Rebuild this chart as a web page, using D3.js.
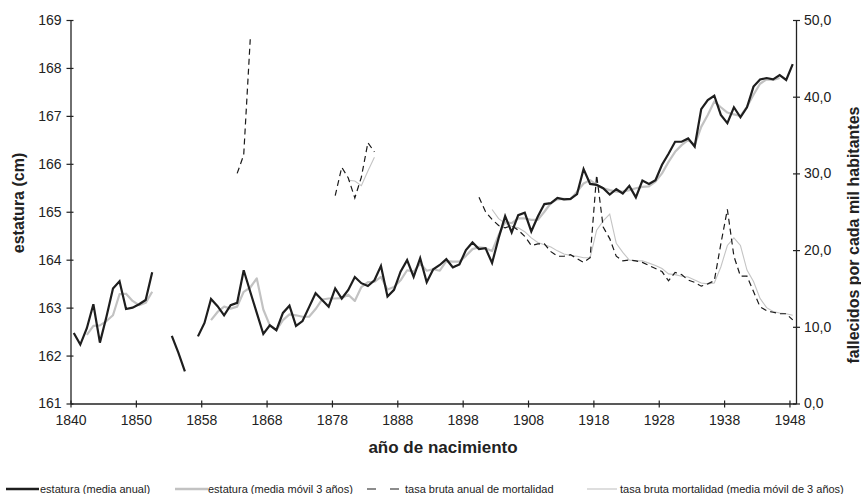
<!DOCTYPE html>
<html>
<head>
<meta charset="utf-8">
<script src="https://cdn.jsdelivr.net/npm/d3@7"></script>
<style>
  body { margin: 0; background: #fff; }
  text { font-family: "Liberation Sans", Arial, sans-serif; }
</style>
</head>
<body>
<div id="chart"></div>
<script>
// category positions on the x axis (one per birth year, 111 in all)
var nCategories = 111;
var xTickIndex = [0, 10, 20, 30, 40, 50, 60, 70, 80, 90, 100, 110];
var xTickLabels = ["1840", "1850", "1858", "1868", "1878", "1888", "1898", "1908", "1918", "1928", "1938", "1948"];
var leftTicks = [161, 162, 163, 164, 165, 166, 167, 168, 169];
var rightTicks = [0, 10, 20, 30, 40, 50];

// estatura (media anual), cm
var heightAnnual = [
  162.47, 162.23, 162.57, 163.07, 162.27, 162.81, 163.40, 163.55, 162.97, 163.00,
  163.07, 163.16, 163.74, null, null, 162.41, 162.06, 161.67, null, 162.40,
  162.68, 163.18, 163.03, 162.84, 163.05, 163.10, 163.78, 163.33, 162.89, 162.45,
  162.63, 162.53, 162.89, 163.04, 162.62, 162.72, 163.01, 163.30, 163.16, 163.02,
  163.40, 163.19, 163.37, 163.64, 163.51, 163.45, 163.57, 163.87, 163.23, 163.37,
  163.75, 163.99, 163.64, 164.03, 163.53, 163.80, 163.89, 164.01, 163.84, 163.90,
  164.20, 164.36, 164.22, 164.24, 163.93, 164.45, 164.91, 164.57, 164.93, 164.98,
  164.59, 164.90, 165.16, 165.18, 165.29, 165.26, 165.27, 165.37, 165.89, 165.58,
  165.56, 165.49, 165.36, 165.47, 165.38, 165.54, 165.30, 165.65, 165.58, 165.66,
  165.98, 166.21, 166.46, 166.46, 166.53, 166.36, 167.14, 167.33, 167.42, 167.02,
  166.85, 167.18, 166.97, 167.18, 167.61, 167.76, 167.79, 167.76, 167.85, 167.75,
  168.08
];

// estatura (media movil 3 anos), cm
var heightMA = [
  null, null, 162.43, 162.62, 162.63, 162.72, 162.84, 163.28, 163.29, 163.14,
  163.05, 163.10, 163.33, null, null, null, null, null, null, null,
  null, 162.74, 162.91, 163.02, 162.98, 163.02, 163.33, 163.42, 163.61, 162.96,
  162.63, 162.53, 162.74, 162.86, 162.84, 162.81, 162.81, 162.97, 163.17, 163.19,
  163.19, 163.20, 163.27, 163.14, 163.43, 163.53, 163.54, 163.64, 163.38, 163.43,
  163.57, 163.78, 163.75, 163.92, 163.77, 163.80, 163.77, 163.97, 163.96, 163.96,
  164.08, 164.22, 164.26, 164.24, 164.18, 164.51, 164.79, 164.76, 164.86, 164.86,
  164.83, 164.83, 165.00, 165.18, 165.26, 165.27, 165.26, 165.42, 165.59, 165.66,
  165.56, 165.49, 165.45, 165.42, 165.42, 165.45, 165.49, 165.52, 165.53, 165.63,
  165.80, 166.04, 166.25, 166.39, 166.50, 166.39, 166.77, 167.02, 167.30, 167.18,
  167.07, 167.03, 167.00, 167.19, 167.44, 167.67, 167.76, 167.75, 167.79, null,
  null
];

// tasa bruta anual de mortalidad, por mil
var mortAnnual = [
  null, null, null, null, null, null, null, null, null, null,
  null, null, null, null, null, null, null, null, null, null,
  null, null, null, null, null, 30.0, 32.4, 47.5, null, null,
  null, null, null, null, null, null, null, null, null, null,
  27.1, 30.8, 29.4, 26.8, 29.5, 34.0, 32.8, null, null, null,
  null, null, null, null, null, null, null, null, null, null,
  null, null, 26.9, 25.0, 24.0, 23.2, 22.9, 23.2, 22.6, 21.8,
  20.6, 20.8, 20.8, 19.8, 19.2, 19.2, 19.4, 18.9, 18.4, 19.0,
  29.8, 23.0, 21.5, 19.2, 18.6, 18.7, 18.6, 18.4, 18.0, 17.6,
  17.2, 16.0, 17.1, 16.8, 16.1, 15.8, 15.3, 15.6, 16.0, 20.8,
  25.3, 19.2, 16.6, 16.6, 14.6, 12.6, 12.1, 11.9, 11.7, 11.7,
  10.9
];

// tasa bruta mortalidad (media movil de 3 anos), por mil
var mortMA = [
  null, null, null, null, null, null, null, null, null, null,
  null, null, null, null, null, null, null, null, null, null,
  null, null, null, null, null, null, null, null, null, null,
  null, null, null, null, null, null, null, null, null, null,
  null, null, 29.1, 29.0, 28.4, 30.3, 32.1, null, null, null,
  null, null, null, null, null, null, null, null, null, null,
  null, null, null, null, 25.3, 24.1, 23.5, 23.1, 22.9, 22.4,
  21.6, 21.0, 20.7, 20.4, 19.9, 19.5, 19.3, 19.2, 19.0, 19.0,
  22.6, 23.8, 24.7, 20.9, 19.7, 18.7, 18.6, 18.6, 18.3, 18.0,
  17.6, 16.9, 16.8, 16.6, 16.5, 16.1, 15.7, 15.6, 15.7, 17.8,
  20.6, 21.6, 20.6, 17.4, 15.9, 13.7, 12.5, 12.0, 11.8, 11.7,
  11.5
];

var legendLabels = [
  "estatura (media anual)",
  "estatura (media móvil 3 años)",
  "tasa bruta anual de mortalidad",
  "tasa bruta mortalidad (media móvil de 3 años)"
];

function drawChart() {
	var width = 861, height = 494;
	var left = 70.5, right = 796, top = 20, bottom = 403.5;

	var svg = d3.select("#chart")
		.append("svg")
		.attr("width", width)
		.attr("height", height);

	var x = d3.scaleLinear().domain([0, nCategories]).range([left, right]);
	var yL = d3.scaleLinear().domain([161, 169]).range([bottom, top]);
	var yR = d3.scaleLinear().domain([0, 50]).range([bottom, top]);

	// series (points sit in the middle of their category)
	var lineL = d3.line()
		.defined(d => d != null)
		.x((d, i) => x(i + 0.5))
		.y(d => yL(d));
	var lineR = d3.line()
		.defined(d => d != null)
		.x((d, i) => x(i + 0.5))
		.y(d => yR(d));

	svg.append("path").datum(mortMA)
		.attr("d", lineR).attr("fill", "none")
		.attr("stroke", "#c4c4c4").attr("stroke-width", 1.1);

	svg.append("path").datum(mortAnnual)
		.attr("d", lineR).attr("fill", "none")
		.attr("stroke", "#1a1a1a").attr("stroke-width", 1.2)
		.attr("stroke-dasharray", "6,4");

	svg.append("path").datum(heightMA)
		.attr("d", lineL).attr("fill", "none")
		.attr("stroke", "#c2c2c2").attr("stroke-width", 2.2)
		.attr("stroke-linejoin", "round");

	svg.append("path").datum(heightAnnual)
		.attr("d", lineL).attr("fill", "none")
		.attr("stroke", "#1e1e1e").attr("stroke-width", 2.2)
		.attr("stroke-linejoin", "miter");

	// axes
	var gL = svg.append("g")
		.attr("transform", "translate(" + left + ",0)")
		.call(d3.axisLeft(yL).tickValues(leftTicks).tickSize(4).tickSizeOuter(0).tickPadding(5));
	gL.selectAll(".tick line").attr("x1", 3);

	var gR = svg.append("g")
		.attr("transform", "translate(" + right + ",0)")
		.call(d3.axisRight(yR).tickValues(rightTicks).tickSize(4).tickSizeOuter(0).tickPadding(4)
			.tickFormat(d => d3.format(".1f")(d).replace(".", ",")));
	gR.selectAll(".tick line").attr("x1", -3);

	var gX = svg.append("g")
		.attr("transform", "translate(0," + bottom + ")")
		.call(d3.axisBottom(x).tickValues(xTickIndex).tickSize(4).tickSizeOuter(0).tickPadding(7.5)
			.tickFormat((d, i) => xTickLabels[i]));
	gX.selectAll(".tick line").attr("y1", -3);

	svg.selectAll(".domain").attr("stroke", "#222").attr("stroke-width", 1.3);
	svg.selectAll(".tick line").attr("stroke", "#222").attr("stroke-width", 1.2);
	svg.selectAll(".tick text").attr("font-size", 14).attr("fill", "#222")
		.attr("font-family", "'Liberation Sans', Arial, sans-serif");

	// titles
	svg.append("text")
		.attr("transform", "translate(24,203) rotate(-90)")
		.attr("text-anchor", "middle")
		.attr("font-size", 16).attr("font-weight", "bold").attr("fill", "#222")
		.text("estatura (cm)");

	svg.append("text")
		.attr("transform", "translate(859,235) rotate(-90)")
		.attr("text-anchor", "middle")
		.attr("font-size", 16).attr("font-weight", "bold").attr("fill", "#222")
		.text("fallecidos por cada mil habitantes");

	svg.append("text")
		.attr("x", 443).attr("y", 453)
		.attr("text-anchor", "middle")
		.attr("font-size", 17).attr("font-weight", "bold").attr("fill", "#222")
		.text("año de nacimiento");

	// legend
	var legendItems = [
		{x0: 6, x1: 39, tx: 40, stroke: "#1e1e1e", w: 2.5, dash: null},
		{x0: 175, x1: 208, tx: 208, stroke: "#c2c2c2", w: 2.5, dash: null},
		{x0: 367, x1: 400, tx: 405, stroke: "#1a1a1a", w: 1.2, dash: "9,14"},
		{x0: 587, x1: 617, tx: 620, stroke: "#c4c4c4", w: 1.1, dash: null}
	];
	var ly = 489;
	var lg = svg.append("g").selectAll("g")
		.data(legendItems)
		.join("g");
	lg.append("line")
		.attr("x1", d => d.x0).attr("x2", d => d.x1)
		.attr("y1", ly).attr("y2", ly)
		.attr("stroke", d => d.stroke).attr("stroke-width", d => d.w)
		.attr("stroke-dasharray", d => d.dash);
	lg.append("text")
		.attr("x", d => d.tx).attr("y", ly + 4)
		.attr("font-size", 11).attr("fill", "#222")
		.text((d, i) => legendLabels[i]);
}

drawChart();
</script>
</body>
</html>
